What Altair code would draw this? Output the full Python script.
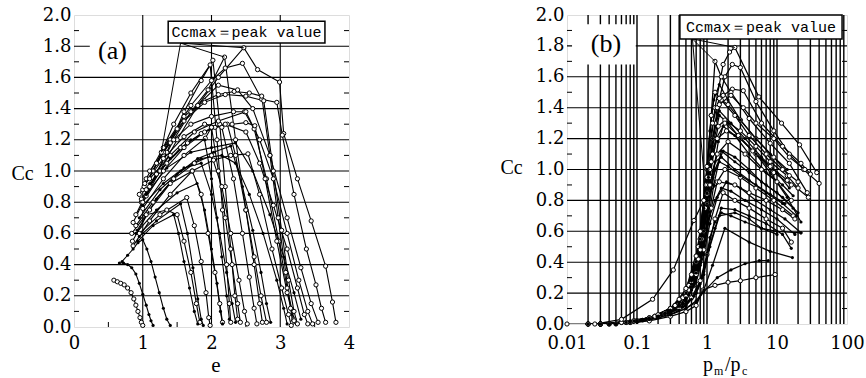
import altair as alt
import pandas as pd

NUM_FONT = "DejaVu Serif"
TXT_FONT = "Liberation Serif"
BOX_FONT = "Liberation Mono"

# ---------------- panel (a): Cc versus e ----------------
A_E = [
    [0.86, 1.05, 1.25, 1.5, 1.8, 2.1, 2.47, 2.67, 2.99, 3.05, 3.25, 3.45, 3.66, 3.76, 3.81],
    [0.95, 1.15, 1.4, 1.7, 2.0, 2.2, 2.45, 2.73, 2.95, 3.03, 3.2, 3.38, 3.52, 3.6, 3.66],
    [0.9, 1.1, 1.35, 1.6, 1.85, 2.02, 2.12, 2.2, 2.28, 2.34, 2.38],
    [1.0, 1.2, 1.45, 1.7, 1.98, 2.08, 2.16, 2.22, 2.26, 2.28],
    [0.98, 1.2, 1.45, 1.7, 1.95, 2.19, 2.35, 2.5, 2.62, 2.7, 2.74],
    [1.05, 1.3, 1.6, 1.9, 2.1, 2.33, 2.55, 2.73, 2.85, 2.97, 3.08, 3.15, 3.18],
    [1.02, 1.3, 1.6, 1.9, 2.2, 2.5, 2.76, 2.9, 3.02, 3.12, 3.2, 3.25],
    [1.1, 1.4, 1.7, 2.0, 2.32, 2.48, 2.62, 2.8, 2.98, 3.1, 3.2],
    [0.98, 1.25, 1.55, 1.85, 2.05, 2.3, 2.5, 2.63, 2.78, 2.95, 3.1, 3.2],
    [1.0, 1.3, 1.6, 1.91, 2.0, 2.23, 2.35, 2.5, 2.62, 2.72, 2.8],
    [0.92, 1.2, 1.5, 1.8, 2.03, 2.28, 2.45, 2.6, 2.72, 2.8, 2.86],
    [0.85, 1.1, 1.4, 1.72, 2.03, 2.28, 2.53, 2.7, 2.88, 3.02, 3.12, 3.16],
    [0.86, 1.1, 1.4, 1.72, 1.85, 1.95, 2.05, 2.12, 2.16],
    [0.9, 1.2, 1.5, 1.79, 1.9, 2.0, 2.08, 2.13, 2.16],
    [0.95, 1.25, 1.64, 1.75, 1.85, 1.92, 1.96, 1.98],
    [0.95, 1.2, 1.55, 1.65, 1.73, 1.8, 1.85, 1.88],
    [0.93, 1.15, 1.45, 1.52, 1.6, 1.68, 1.75, 1.8],
    [0.84, 1.05, 1.35, 1.5, 1.6, 1.7, 1.78, 1.83],
    [1.0, 1.3, 1.6, 1.9, 2.2, 2.5, 2.7, 2.9, 3.1, 3.25, 3.35, 3.4],
    [1.05, 1.35, 1.7, 2.0, 2.35, 2.6, 2.85, 3.05, 3.2, 3.3],
    [1.1, 1.4, 1.75, 2.1, 2.5, 2.7, 2.9, 3.1, 3.27, 3.4, 3.47],
    [1.27, 1.5, 1.8, 2.1, 2.38, 2.6, 2.85, 3.1, 3.3, 3.45, 3.55],
    [0.95, 1.25, 1.55, 1.85, 2.15, 2.35, 2.55, 2.75, 2.95, 3.05, 3.1],
    [1.03, 1.3, 1.6, 1.9, 2.15, 2.32, 2.45, 2.55, 2.62, 2.66],
    [1.0, 1.3, 1.6, 1.85, 2.0, 2.12, 2.22, 2.3, 2.35],
    [0.9, 1.15, 1.45, 1.75, 2.0, 2.15, 2.28, 2.4, 2.48, 2.52],
    [1.05, 1.35, 1.65, 2.0, 2.1, 2.2, 2.3, 2.38, 2.42],
    [1.1, 1.4, 1.7, 1.9, 2.0, 2.08, 2.15, 2.22, 2.26],
    [0.58, 0.63, 0.68, 0.73, 0.78, 0.83, 0.87, 0.9, 0.93, 0.96, 0.98, 1.0],
    [0.66, 0.72, 0.78, 0.84, 0.9, 0.95, 1.0, 1.05, 1.09, 1.12, 1.15],
    [0.7, 0.78, 0.86, 0.93, 1.0, 1.06, 1.12, 1.18, 1.24, 1.3, 1.35, 1.4],
]
A_CC = [
    [0.67, 0.84, 1.0, 1.2, 1.42, 1.6, 1.79, 1.65, 1.57, 1.24, 0.95, 0.68, 0.39, 0.16, 0.03],
    [0.85, 1.0, 1.2, 1.42, 1.58, 1.66, 1.69, 1.46, 1.44, 1.23, 0.85, 0.5, 0.27, 0.12, 0.03],
    [0.72, 0.9, 1.12, 1.38, 1.58, 1.71, 1.3, 0.9, 0.5, 0.2, 0.05],
    [0.88, 1.05, 1.3, 1.5, 1.68, 1.2, 0.75, 0.4, 0.15, 0.03],
    [0.8, 0.98, 1.2, 1.38, 1.52, 1.73, 1.2, 0.75, 0.4, 0.15, 0.03],
    [0.95, 1.15, 1.35, 1.45, 1.49, 1.51, 1.5, 1.48, 1.1, 0.7, 0.35, 0.12, 0.03],
    [0.9, 1.12, 1.32, 1.44, 1.49, 1.48, 1.45, 1.0, 0.62, 0.3, 0.1, 0.02],
    [1.0, 1.18, 1.3, 1.35, 1.38, 1.38, 1.27, 0.95, 0.55, 0.25, 0.05],
    [0.82, 1.0, 1.15, 1.24, 1.28, 1.3, 1.31, 1.29, 0.95, 0.55, 0.22, 0.04],
    [0.76, 0.95, 1.1, 1.21, 1.28, 1.3, 1.1, 0.75, 0.45, 0.2, 0.03],
    [0.62, 0.82, 0.98, 1.08, 1.12, 1.16, 0.9, 0.62, 0.35, 0.15, 0.03],
    [0.55, 0.75, 0.92, 1.0, 1.07, 1.1, 1.11, 0.85, 0.5, 0.25, 0.08, 0.01],
    [0.52, 0.68, 0.85, 1.0, 0.85, 0.6, 0.35, 0.15, 0.03],
    [0.6, 0.75, 0.86, 0.92, 0.75, 0.5, 0.28, 0.1, 0.02],
    [0.6, 0.72, 0.83, 0.65, 0.42, 0.22, 0.06, 0.01],
    [0.58, 0.68, 0.79, 0.6, 0.38, 0.18, 0.05, 0.01],
    [0.55, 0.65, 0.72, 0.6, 0.42, 0.25, 0.1, 0.02],
    [0.6, 0.72, 0.75, 0.72, 0.55, 0.35, 0.15, 0.03],
    [0.8, 1.0, 1.15, 1.25, 1.3, 1.25, 1.05, 0.78, 0.5, 0.25, 0.08, 0.02],
    [0.85, 1.02, 1.12, 1.15, 1.18, 1.0, 0.72, 0.45, 0.22, 0.05],
    [0.95, 1.1, 1.25, 1.32, 1.38, 1.2, 0.95, 0.6, 0.3, 0.1, 0.02],
    [1.12, 1.27, 1.42, 1.55, 1.52, 1.4, 1.1, 0.7, 0.38, 0.15, 0.03],
    [0.7, 0.88, 1.0, 1.08, 1.1, 1.05, 0.85, 0.6, 0.3, 0.12, 0.02],
    [0.92, 1.08, 1.22, 1.3, 1.28, 0.95, 0.6, 0.32, 0.12, 0.02],
    [0.78, 0.92, 1.02, 1.05, 0.85, 0.6, 0.35, 0.15, 0.03],
    [0.65, 0.8, 0.95, 1.05, 1.1, 0.9, 0.6, 0.3, 0.1, 0.02],
    [0.88, 1.05, 1.18, 1.28, 1.0, 0.7, 0.4, 0.15, 0.03],
    [0.92, 1.08, 1.2, 1.2, 0.95, 0.7, 0.45, 0.2, 0.05],
    [0.3, 0.29, 0.28, 0.27, 0.25, 0.22, 0.18, 0.14, 0.1, 0.06, 0.03, 0.01],
    [0.41, 0.41, 0.4, 0.38, 0.34, 0.28, 0.21, 0.14, 0.08, 0.04, 0.01],
    [0.42, 0.46, 0.5, 0.54, 0.56, 0.5, 0.42, 0.32, 0.22, 0.12, 0.05, 0.01],
]
A_KIND = ["o", "o", "o", "o", "o", "o", "o", "o", "o", "o", "f", "o", "o", "f", "o", "f",
          "f", "o", "o", "f", "o", "o", "f", "o", "f", "o", "o", "f", "o", "f", "f"]

# ---------------- panel (b): Cc versus pm/pc ----------------
B_P = [
    [0.02, 0.06, 0.15, 0.3, 0.5, 0.75, 1.0, 1.3, 1.7, 2.1, 2.5, 5.5, 11.6, 21, 37],
    [0.03, 0.08, 0.2, 0.4, 0.6, 0.85, 1.1, 1.4, 1.8, 2.3, 3.0, 5.0, 9.0, 15, 24, 40],
    [0.02, 0.07, 0.18, 0.35, 0.55, 0.8, 1.0, 1.3, 1.7, 2.3, 3.3, 6.0, 12, 22, 30],
    [0.03, 0.1, 0.25, 0.45, 0.7, 0.95, 1.15, 1.3, 1.6, 2.2, 4, 8, 15, 27],
    [0.02, 0.06, 0.15, 0.3, 0.5, 0.75, 1.0, 1.2, 1.45, 1.8, 3, 5, 8, 14, 20],
    [0.03, 0.09, 0.2, 0.4, 0.6, 0.8, 1.0, 1.2, 1.45, 1.7, 2.5, 4, 7, 12, 17],
    [0.04, 0.1, 0.25, 0.5, 0.7, 0.9, 1.1, 1.4, 2.0, 3.5, 6, 10, 16],
    [0.02, 0.07, 0.2, 0.4, 0.6, 0.8, 1.0, 1.25, 1.6, 2.5, 4, 7, 12, 20],
    [0.03, 0.1, 0.2, 0.4, 0.65, 0.9, 1.15, 1.4, 1.8, 3, 5, 9, 17],
    [0.05, 0.12, 0.3, 0.5, 0.7, 0.9, 1.1, 1.4, 1.9, 3, 5, 8, 13, 22],
    [0.03, 0.09, 0.2, 0.4, 0.6, 0.8, 1.0, 1.3, 1.7, 2.5, 4, 7, 12, 16],
    [0.04, 0.1, 0.25, 0.45, 0.65, 0.85, 1.05, 1.3, 1.6, 2.5, 4, 7, 12, 16],
    [0.05, 0.15, 0.3, 0.5, 0.7, 0.9, 1.1, 1.5, 2.5, 4, 6, 10, 22],
    [0.04, 0.12, 0.3, 0.5, 0.7, 0.9, 1.2, 1.8, 4, 8, 16.6],
    [0.05, 0.15, 0.3, 0.5, 0.7, 0.9, 1.4, 2.2, 3.5, 5.6, 7.5],
    [0.05, 0.15, 0.3, 0.5, 0.7, 0.88, 1.3, 2.0, 3.0, 5.0, 9.4],
    [0.01, 0.025, 0.06, 0.167, 0.33, 0.65, 1.0, 1.5, 2.5, 4, 7, 12, 18],
    [0.03, 0.08, 0.2, 0.4, 0.6, 0.8, 1.0, 1.2, 1.5, 2.2, 3.3, 5, 9, 15, 25],
    [0.02, 0.08, 0.2, 0.4, 0.6, 0.8, 1.0, 1.2, 1.5, 2, 3, 5, 8, 14, 22],
    [0.03, 0.1, 0.25, 0.45, 0.7, 0.9, 1.1, 1.35, 1.8, 2.8, 4.5, 8, 14, 28],
    [0.04, 0.1, 0.25, 0.45, 0.65, 0.85, 1.05, 1.3, 1.7, 2.5, 4, 6, 10, 17],
    [0.02, 0.07, 0.18, 0.35, 0.55, 0.75, 0.95, 1.15, 1.4, 1.9, 3, 5, 9, 16],
    [0.05, 0.15, 0.3, 0.5, 0.7, 0.9, 1.1, 1.3, 1.6, 2.2, 3.5, 6, 10, 18],
    [0.03, 0.09, 0.2, 0.4, 0.6, 0.8, 1.0, 1.15, 1.3, 1.6, 2.5, 4, 7, 12, 20],
    [0.04, 0.1, 0.2, 0.4, 0.6, 0.8, 1.0, 1.2, 1.5, 2, 3, 5, 8, 13],
    [0.03, 0.08, 0.15, 0.25, 0.35, 0.45, 0.55, 0.65, 0.75, 0.85, 0.95, 1.05, 1.2, 1.5, 2.2, 3.5, 6, 10, 15],
    [0.05, 0.12, 0.2, 0.3, 0.4, 0.5, 0.6, 0.7, 0.8, 0.9, 1.0, 1.1, 1.3, 1.6, 2.5, 4, 7, 12, 19],
    [0.04, 0.1, 0.2, 0.3, 0.4, 0.5, 0.6, 0.7, 0.8, 0.9, 1.0, 1.1, 1.25, 1.5, 2, 3, 5, 8, 14],
    [0.1, 0.2, 0.3, 0.4, 0.5, 0.6, 0.7, 0.8, 0.9, 1.0, 1.1, 1.3, 1.6, 2.2, 3.5, 6, 10],
    [0.04, 0.1, 0.2, 0.3, 0.4, 0.5, 0.6, 0.7, 0.8, 0.9, 1.0, 1.2, 1.5, 2.0, 3, 5, 9, 15],
]
B_CC = [
    [0.0, 0.01, 0.04, 0.1, 0.22, 0.5, 0.95, 1.4, 1.68, 1.76, 1.79, 1.47, 1.30, 1.16, 0.98],
    [0.0, 0.01, 0.05, 0.12, 0.25, 0.55, 1.0, 1.4, 1.6, 1.68, 1.66, 1.44, 1.25, 1.10, 1.0, 0.91],
    [0.0, 0.01, 0.05, 0.12, 0.25, 0.55, 0.9, 1.3, 1.48, 1.52, 1.51, 1.30, 1.15, 1.04, 0.97],
    [0.0, 0.02, 0.07, 0.17, 0.4, 0.9, 1.35, 1.70, 1.6, 1.5, 1.33, 1.17, 1.04, 0.85],
    [0.0, 0.01, 0.04, 0.1, 0.2, 0.42, 0.78, 1.1, 1.28, 1.32, 1.25, 1.15, 1.05, 0.96, 0.88],
    [0.0, 0.02, 0.05, 0.12, 0.22, 0.4, 0.65, 0.95, 1.18, 1.28, 1.22, 1.1, 0.98, 0.9, 0.83],
    [0.0, 0.02, 0.07, 0.18, 0.33, 0.6, 0.9, 1.1, 1.18, 1.1, 1.0, 0.92, 0.8],
    [0.0, 0.01, 0.05, 0.12, 0.22, 0.38, 0.62, 0.9, 1.12, 1.05, 0.98, 0.9, 0.82, 0.72],
    [0.0, 0.02, 0.05, 0.12, 0.25, 0.48, 0.75, 0.92, 1.0, 0.95, 0.88, 0.8, 0.7],
    [0.0, 0.03, 0.08, 0.15, 0.27, 0.45, 0.65, 0.82, 0.92, 0.88, 0.8, 0.74, 0.68, 0.59],
    [0.0, 0.02, 0.05, 0.1, 0.17, 0.28, 0.45, 0.68, 0.85, 0.8, 0.75, 0.68, 0.62, 0.53],
    [0.0, 0.02, 0.06, 0.11, 0.18, 0.3, 0.48, 0.62, 0.75, 0.74, 0.7, 0.65, 0.58, 0.49],
    [0.0, 0.03, 0.07, 0.12, 0.2, 0.32, 0.5, 0.7, 0.72, 0.68, 0.62, 0.6, 0.59],
    [0.0, 0.02, 0.06, 0.1, 0.15, 0.22, 0.38, 0.62, 0.53, 0.47, 0.43],
    [0.0, 0.03, 0.06, 0.1, 0.14, 0.21, 0.3, 0.35, 0.39, 0.41, 0.41],
    [0.0, 0.02, 0.05, 0.08, 0.12, 0.22, 0.25, 0.27, 0.28, 0.3, 0.32],
    [0.0, 0.0, 0.03, 0.16, 0.35, 0.67, 0.84, 0.92, 0.9, 0.85, 0.8, 0.74, 0.68],
    [0.0, 0.01, 0.05, 0.12, 0.24, 0.48, 0.85, 1.2, 1.42, 1.48, 1.4, 1.3, 1.2, 1.08, 1.0],
    [0.0, 0.01, 0.05, 0.13, 0.26, 0.5, 0.85, 1.15, 1.35, 1.3, 1.2, 1.1, 0.98, 0.82, 0.66],
    [0.0, 0.02, 0.06, 0.14, 0.32, 0.6, 0.95, 1.2, 1.3, 1.22, 1.12, 1.02, 0.93, 0.82],
    [0.0, 0.02, 0.06, 0.13, 0.25, 0.45, 0.75, 1.0, 1.12, 1.08, 1.0, 0.92, 0.85, 0.75],
    [0.0, 0.01, 0.05, 0.12, 0.22, 0.42, 0.75, 1.05, 1.2, 1.25, 1.2, 1.1, 0.98, 0.9],
    [0.0, 0.03, 0.08, 0.16, 0.3, 0.52, 0.7, 0.8, 0.88, 0.86, 0.8, 0.74, 0.68, 0.58],
    [0.0, 0.02, 0.05, 0.13, 0.27, 0.55, 1.0, 1.35, 1.5, 1.45, 1.35, 1.22, 1.1, 1.0, 0.92],
    [0.0, 0.02, 0.05, 0.12, 0.24, 0.45, 0.72, 0.95, 1.05, 1.02, 0.96, 0.9, 0.84, 0.78],
    [0.0, 0.02, 0.04, 0.07, 0.1, 0.14, 0.19, 0.26, 0.36, 0.5, 0.7, 0.95, 1.2, 1.38, 1.3, 1.2, 1.08, 0.98, 0.88],
    [0.0, 0.03, 0.05, 0.08, 0.12, 0.17, 0.24, 0.33, 0.45, 0.6, 0.78, 0.92, 1.05, 1.08, 1.0, 0.93, 0.85, 0.78, 0.7],
    [0.0, 0.02, 0.05, 0.09, 0.14, 0.2, 0.28, 0.4, 0.55, 0.75, 1.0, 1.25, 1.45, 1.55, 1.45, 1.32, 1.2, 1.1, 1.0],
    [0.01, 0.04, 0.06, 0.09, 0.12, 0.16, 0.2, 0.26, 0.34, 0.45, 0.56, 0.66, 0.72, 0.7, 0.66, 0.62, 0.58],
    [0.0, 0.02, 0.06, 0.1, 0.16, 0.23, 0.32, 0.44, 0.6, 0.8, 1.02, 1.3, 1.46, 1.42, 1.32, 1.2, 1.08, 0.96],
]
B_KIND = ["o", "o", "o", "o", "o", "f", "o", "f", "o", "f", "o", "f", "f", "f", "f", "o",
          "o", "o", "f", "o", "f", "o", "f", "o", "f", "f", "f", "f", "f", "o"]

# peak-value call-out leader lines
A_LEAD_FROM = [1.55, 1.82]
A_LEAD_E = [2.47, 2.19, 1.27]
A_LEAD_CC = [1.79, 1.73, 1.12]
B_LEAD_FROM = [0.62, 1.845]
B_LEAD_P = [2.5, 1.3, 0.95]
B_LEAD_CC = [1.79, 1.70, 0.85]

# grids / ticks
Y_GRID = [0.2, 0.4, 0.6, 0.8, 1.0, 1.2, 1.4, 1.6, 1.8]
Y_MINOR = [0.1, 0.3, 0.5, 0.7, 0.9, 1.1, 1.3, 1.5, 1.7, 1.9]
A_X_GRID = [1, 2, 3]
A_X_MINOR = [0.5, 1.5, 2.5, 3.5]
B_X_GRID = [m * 10.0 ** k for k in range(-2, 2) for m in range(1, 10)][1:]
A_X_LABELS = [0, 1, 2, 3, 4]
B_X_LABELS = [0.01, 0.1, 1, 10, 100]
Y_LABELS = [0.0, 0.2, 0.4, 0.6, 0.8, 1.0, 1.2, 1.4, 1.6, 1.8, 2.0]

BOX_TEXT = "Ccmax\uff1dpeak value"

WA, HA = 275, 312
WB, HB = 280, 309


def long_table(xs, ys, kinds):
    rows = []
    for i, (xl, yl, k) in enumerate(zip(xs, ys, kinds)):
        for j, (x, y) in enumerate(zip(xl, yl)):
            rows.append({"curve": i, "j": j, "x": x, "y": y, "kind": k})
    return pd.DataFrame(rows)


def panel(df, xscale, xlabels, xfmt, width, height, lead_from, lead_x, lead_y,
          xgrid, xminor, box, tag, tagpos, tagbox, ytitle_x, ytitle_y, xtitle, grid_w, line_w,
          xlabpad, xtitle_y):
    xaxis = alt.Axis(values=xlabels, format=xfmt, grid=False, ticks=False, domain=False,
                     labelFont=NUM_FONT, labelFontSize=18, labelPadding=xlabpad, labelColor="black",
                     labelFlush=False, labelOverlap=False,
                     title=xtitle if xtitle else " ", titleFont=TXT_FONT, titleFontSize=21,
                     titleFontWeight="normal", titleColor="black",
                     titleX=width / 2 + 4, titleY=xtitle_y, titleAlign="center", titleBaseline="alphabetic")
    yaxis = alt.Axis(values=Y_LABELS, format=".1f", grid=False, ticks=False, domain=False,
                     labelFont=NUM_FONT, labelFontSize=18, labelPadding=3, labelColor="black",
                     labelFlush=False, labelOverlap=False,
                     title="Cc", titleFont=TXT_FONT, titleFontSize=20, titleFontWeight="normal",
                     titleColor="black", titleAngle=0, titleX=ytitle_x, titleY=ytitle_y,
                     titleAlign="center", titleBaseline="middle")
    ys = alt.Scale(domain=[0, 2], nice=False, zero=False)

    def X(f="x"):
        return alt.X(f"{f}:Q", scale=xscale, axis=xaxis)

    def Y(f="y"):
        return alt.Y(f"{f}:Q", scale=ys, axis=yaxis)

    hgrid = alt.Chart(pd.DataFrame({"y": Y_GRID})).mark_rule(color="black", strokeWidth=1.1).encode(
        y=Y(), x=alt.value(0), x2=alt.value(width))
    vgrid = alt.Chart(pd.DataFrame({"x": xgrid})).mark_rule(color="black", strokeWidth=grid_w).encode(
        x=X(), y=alt.value(0), y2=alt.value(height))
    yminL = alt.Chart(pd.DataFrame({"y": Y_MINOR})).mark_rule(color="black", strokeWidth=1).encode(
        y=Y(), x=alt.value(0), x2=alt.value(5))
    yminR = alt.Chart(pd.DataFrame({"y": Y_MINOR})).mark_rule(color="black", strokeWidth=1).encode(
        y=Y(), x=alt.value(width - 5), x2=alt.value(width))
    layers = [hgrid, vgrid, yminL, yminR]
    if xminor:
        xmin = alt.Chart(pd.DataFrame({"x": xminor})).mark_rule(color="black", strokeWidth=1).encode(
            x=X(), y=alt.value(height - 5), y2=alt.value(height))
        layers.append(xmin)
    tb = pd.DataFrame({"x": [tagbox[0]], "x2": [tagbox[1]], "y": [tagbox[2]], "y2": [tagbox[3]]})
    layers.append(alt.Chart(tb).mark_rect(fill="white").encode(
        x=X(), x2="x2:Q", y=Y(), y2="y2:Q"))
    base = alt.Chart(df)
    layers.append(base.mark_line(color="black", strokeWidth=line_w, clip=True).encode(
        x=X(), y=Y(), detail="curve:N", order="j:Q"))
    layers.append(base.transform_filter(alt.datum.kind == "o").mark_point(
        shape="circle", size=18, filled=True, fill="white", stroke="black", strokeWidth=1, opacity=1).encode(
        x=X(), y=Y()))
    layers.append(base.transform_filter(alt.datum.kind == "f").mark_point(
        shape="circle", size=10, filled=True, color="black", opacity=1).encode(
        x=X(), y=Y()))
    ld = pd.DataFrame({"x": [lead_from[0]] * len(lead_x), "y": [lead_from[1]] * len(lead_x),
                       "x2": lead_x, "y2": lead_y})
    layers.append(alt.Chart(ld).mark_rule(color="black", strokeWidth=1).encode(
        x=X(), y=Y(), x2="x2:Q", y2="y2:Q"))
    bx = pd.DataFrame({"x": [box[0]], "x2": [box[1]], "y": [box[2]], "y2": [box[3]]})
    layers.append(alt.Chart(bx).mark_rect(fill="white", stroke="black", strokeWidth=1.5).encode(
        x=X(), x2="x2:Q", y=Y(), y2="y2:Q"))
    bt = pd.DataFrame({"x": [box[4]], "y": [box[5]], "t": [BOX_TEXT]})
    layers.append(alt.Chart(bt).mark_text(font=BOX_FONT, fontSize=15, color="black",
                                          align="center", baseline="middle").encode(
        x=X(), y=Y(), text="t:N"))
    tg = pd.DataFrame({"x": [tagpos[0]], "y": [tagpos[1]], "t": [tag]})
    layers.append(alt.Chart(tg).mark_text(font=TXT_FONT, fontSize=26, color="black",
                                          align="center", baseline="middle").encode(
        x=X(), y=Y(), text="t:N"))
    return layers


dfa = long_table(A_E, A_CC, A_KIND)
dfb = long_table(B_P, B_CC, B_KIND)

sa = alt.Scale(domain=[0, 4], nice=False, zero=False)
sb = alt.Scale(type="log", domain=[0.01, 100], nice=False)

la = panel(dfa, sa, A_X_LABELS, "d", WA, HA, A_LEAD_FROM, A_LEAD_E, A_LEAD_CC,
           A_X_GRID, A_X_MINOR, [1.37, 3.65, 1.96, 1.82, 2.51, 1.89], "(a)", [0.56, 1.77],
           [0.23, 0.97, 1.66, 1.9], -52, 158, "e", 1.1, 1.1, 7, 44)
lb = panel(dfb, sb, B_X_LABELS, "~g", WB, HB, B_LEAD_FROM, B_LEAD_P, B_LEAD_CC,
           B_X_GRID, None, [0.41, 85, 2.0, 1.845, 5.9, 1.92], "(b)", [0.036, 1.81],
           [0.0118, 0.096, 1.68, 1.94], -56, 152, None, 1.4, 1.25, 10, 44)

# x-axis title of (b): p_m / p_c with subscripts
SUB_TEXT = ["p", "m", "/p", "c"]
SUB_X = [136, 147, 158, 175]
SUB_Y = [356, 360, 356, 360]
SUB_FS = [20, 12, 20, 12]
for t, px, py, fs in zip(SUB_TEXT, SUB_X, SUB_Y, SUB_FS):
    lb.append(alt.Chart(pd.DataFrame({"t": [t]})).mark_text(
        font=TXT_FONT, fontSize=fs, color="black", align="left", baseline="alphabetic").encode(
        x=alt.value(px), y=alt.value(py), text="t:N"))

pa = alt.layer(*la).properties(width=WA, height=HA)
pb = alt.layer(*lb).properties(width=WB, height=HB)

chart = alt.hconcat(pa, pb, spacing=218, bounds="flush").properties(
    padding={"left": 10, "top": 5, "right": 0, "bottom": 0}
).configure_view(stroke="black", strokeWidth=1.6).configure(background="white")

chart.save("out.html", embed_options={"renderer": "svg", "actions": False})
